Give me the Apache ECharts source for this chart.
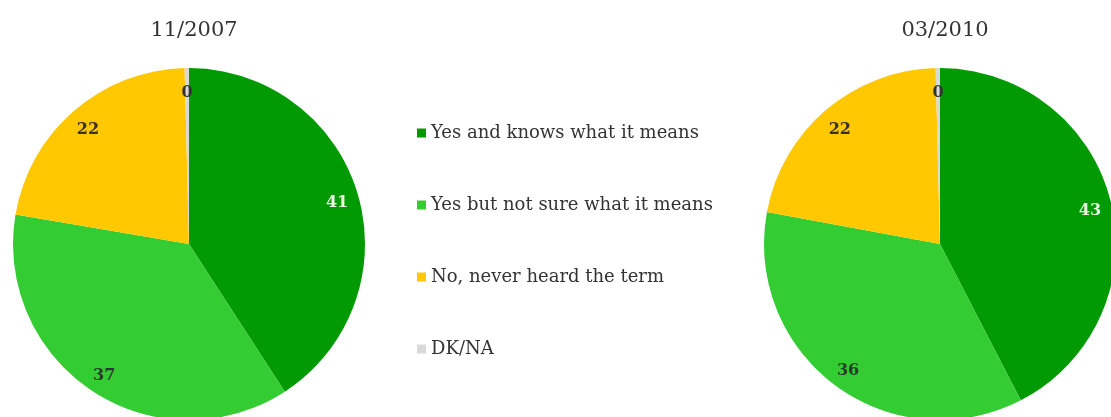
<!DOCTYPE html>
<html><head><meta charset="utf-8">
<script src="https://cdn.jsdelivr.net/npm/echarts@6/dist/echarts.min.js"></script>
<style>html,body{margin:0;padding:0;background:#fff}#c{width:1111px;height:417px}</style>
</head><body><div id="c"></div>
<script>
const categories = ['Yes and knows what it means', 'Yes but not sure what it means', 'No, never heard the term', 'DK/NA'];
const colors = ['#029a02', '#33cc33', '#ffc800', '#d9d9d9'];
const titles = ['11/2007', '03/2010'];
const values2007 = [41, 37, 22, 0.4];
const values2010 = [43, 36, 22, 0.4];
const labelColors = ['#e8f8e0', '#2a3a2a', '#3a3020', '#333333'];

const FONT = 'DejaVu Serif';
const R = 176;
const centers = [[189, 244], [940, 244]];
const allValues = [values2007, values2010];

function mk(vals, transparent) {
  return categories.map((n, i) => ({
    name: n,
    value: vals[i],
    itemStyle: { color: transparent ? 'rgba(0,0,0,0)' : colors[i] },
    label: { color: labelColors[i] }
  }));
}

const series = [];
allValues.forEach((vals, k) => {
  series.push({
    type: 'pie', center: centers[k], radius: [0, R], startAngle: 90, clockwise: true,
    label: { show: false }, labelLine: { show: false }, silent: true,
    emphasis: { disabled: true }, animation: false,
    data: mk(vals, false)
  });
});
allValues.forEach((vals, k) => {
  series.push({
    type: 'pie', center: centers[k], radius: [R * 0.72, R], startAngle: 90, clockwise: true,
    silent: true, emphasis: { disabled: true }, animation: false, minShowLabelAngle: 0,
    label: { show: true, position: 'inside', fontFamily: FONT, fontSize: 16, fontWeight: 'bold',
      offset: [0, 3], formatter: p => String(Math.round(p.value)) },
    labelLine: { show: false },
    data: mk(vals, true)
  });
});

const chart = echarts.init(document.getElementById('c'), null, { renderer: 'canvas' });
chart.setOption({
  animation: false,
  title: titles.map((t, k) => ({
    text: t, left: centers[k][0], top: 15, textAlign: 'center',
    textStyle: { fontFamily: FONT, fontSize: 21, fontWeight: 'normal', color: '#333' }
  })),
  legend: {
    orient: 'vertical', left: 417, top: 123, padding: 0, icon: 'rect', itemWidth: 9, itemHeight: 9,
    itemGap: 52, selectedMode: false,
    textStyle: { fontFamily: FONT, fontSize: 18, color: '#333', lineHeight: 20 },
    data: categories.map((n, i) => ({ name: n, itemStyle: { color: colors[i] } }))
  },
  series
});
</script></body></html>
